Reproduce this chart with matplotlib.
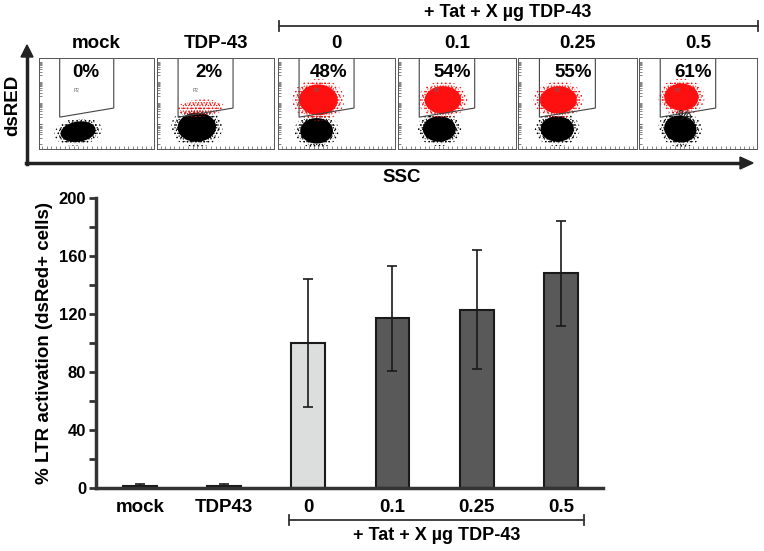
import numpy as np
import matplotlib
matplotlib.use("Agg")
import matplotlib.pyplot as plt
from matplotlib.patches import Ellipse, Polygon

plt.rcParams['font.family'] = ['Liberation Sans', 'DejaVu Sans']
plt.rcParams['font.weight'] = 'bold'
plt.rcParams['axes.labelweight'] = 'bold'
plt.rcParams['hatch.linewidth'] = 0.6

# ---- flow panels ----
panel_titles = ["mock", "TDP-43", "0", "0.1", "0.25", "0.5"]
panel_pct = ["0%", "2%", "48%", "54%", "55%", "61%"]
pct_x = [0.41, 0.44, 0.43, 0.46, 0.46, 0.46]
# clusters: (cx, cy, w, h, angle) in panel axes fraction
black_clusters = [
    (0.34, 0.19, 0.31, 0.22, 15),
    (0.34, 0.24, 0.33, 0.32, 20),
    (0.33, 0.20, 0.28, 0.28, 20),
    (0.35, 0.22, 0.28, 0.28, 20),
    (0.33, 0.22, 0.28, 0.28, 20),
    (0.35, 0.22, 0.27, 0.30, 20),
]
red_clusters = [
    None,
    (0.37, 0.45, 0.30, 0.14, 5),
    (0.345, 0.54, 0.33, 0.34, 10),
    (0.38, 0.54, 0.31, 0.30, 10),
    (0.34, 0.54, 0.31, 0.30, 10),
    (0.36, 0.57, 0.29, 0.30, 10),
]
red_dense = [0, 0.0, 1, 1, 1, 1]

# ---- bar chart ----
bar_labels = ["mock", "TDP43", "0", "0.1", "0.25", "0.5"]
bar_values = [1.5, 1.5, 100, 117, 123, 148]
bar_errors = [1.5, 1.5, 44, 36, 41, 36]
bar_colors = ["#8c8c8c", "#8c8c8c", "#dcdedd", "#595959", "#595959", "#595959"]
group_label = "+ Tat + X µg TDP-43"

W, H = 764, 551
fig = plt.figure(figsize=(W / 100, H / 100), dpi=100)


def fx(px):
    return px / W


def fy(py):
    return 1 - py / H


def blob(ax, c, color, solid=True):
    cx, cy, w, h, a = c
    ax.add_patch(Ellipse((cx, cy), w * 1.35, h * 1.35, angle=a, fill=False,
                         hatch="....", ec=color, lw=0))
    ax.add_patch(Ellipse((cx, cy), w * 1.18, h * 1.18, angle=a, fill=False,
                         hatch="......", ec=color, lw=0))
    if solid:
        ax.add_patch(Ellipse((cx, cy), w, h, angle=a, color=color, lw=0))


panel_edges = [(39, 154), (157, 274), (278, 395), (398, 516), (518, 637), (639, 757)]
p_top, p_bot = 58, 149

for i, (l, r) in enumerate(panel_edges):
    ax = fig.add_axes([fx(l), fy(p_bot), fx(r - l), (p_bot - p_top) / H])
    ax.set_xlim(0, 1)
    ax.set_ylim(0, 1)
    for s in ax.spines.values():
        s.set_linewidth(0.7)
        s.set_color("#555555")
    ax.set_xticks(np.linspace(0.03, 0.97, 25))
    # log-style ticks on the y axis
    yt = []
    for d in [0.05, 0.28, 0.51, 0.74]:
        yt += [d + 0.23 * np.log10(k) for k in range(1, 10)]
    ax.set_yticks(yt)
    ax.tick_params(direction="in", length=2, width=0.5, color="#555555",
                   labelbottom=False, labelleft=False)

    blob(ax, black_clusters[i], "black")
    if red_clusters[i] is not None:
        blob(ax, red_clusters[i], "#ff1010", solid=red_dense[i] > 0)

    gate = Polygon([(0.18, 1.0), (0.18, 0.35), (0.65, 0.45), (0.65, 1.0)],
                   closed=False, fill=False, ec="#444444", lw=0.8)
    ax.add_patch(gate)
    ax.text(0.33, 0.64, "P2", fontsize=3.5, color="#666666", ha="center",
            va="center", fontweight="normal")
    ax.text(pct_x[i], 0.84, panel_pct[i], fontsize=13.5, ha="center", va="center")
    if i == 5:
        ax.text(0.38, 0.36, "%", fontsize=11, ha="center", va="center",
                color="#222222", fontweight="normal")
    fig.text(fx((l + r) / 2), fy(43.5), panel_titles[i], fontsize=13.5,
             ha="center", va="center")

# outer arrows of flow panels
fig.add_artist(plt.Line2D([fx(27), fx(27)], [fy(164), fy(56)], lw=2.5, color="#222222"))
fig.add_artist(plt.Line2D([fx(26), fx(742)], [fy(163), fy(163)], lw=2.5, color="#222222"))
fig.add_artist(Polygon([(fx(21), fy(57)), (fx(33), fy(57)), (fx(27), fy(45))],
                       closed=True, color="#222222", transform=fig.transFigure))
fig.add_artist(Polygon([(fx(740), fy(157)), (fx(740), fy(169)), (fx(753), fy(163))],
                       closed=True, color="#222222", transform=fig.transFigure))
fig.text(fx(13), fy(105), "dsRED", rotation=90, fontsize=13.5, ha="center", va="center")
fig.text(fx(402), fy(177), "SSC", fontsize=13.5, ha="center", va="center")

# top bracket
fig.add_artist(plt.Line2D([fx(279), fx(758)], [fy(26), fy(26)], lw=1.3, color="#333333"))
for xb in (279, 758):
    fig.add_artist(plt.Line2D([fx(xb), fx(xb)], [fy(21), fy(31)], lw=1.3, color="#333333"))
fig.text(fx(508), fy(12.5), group_label, fontsize=13, ha="center", va="center")

# ---- bar chart ----
ax = fig.add_axes([fx(96), fy(488), fx(603 - 96), (488 - 198) / H])
x = np.arange(len(bar_values))
ax.bar(x, bar_values, width=0.4, color=bar_colors, edgecolor="#1a1a1a", linewidth=1.5,
       yerr=bar_errors, capsize=3.5,
       error_kw=dict(elinewidth=1.2, capthick=1.2, ecolor="#1a1a1a"))
ax.set_xlim(-0.52, 5.5)
ax.set_ylim(0, 200)
ax.set_yticks([0, 40, 80, 120, 160, 200])
ax.set_yticks([20, 60, 100, 140, 180], minor=True)
ax.set_xticks(x)
ax.set_xticklabels(bar_labels, fontsize=13.5, fontweight="bold")
ax.set_yticklabels([0, 40, 80, 120, 160, 200], fontsize=12, fontweight="bold")
ax.tick_params(axis="x", length=0, pad=8)
ax.tick_params(axis="y", which="both", length=5, width=2, color="#333333", pad=2)
for s in ["top", "right"]:
    ax.spines[s].set_visible(False)
for s in ["left", "bottom"]:
    ax.spines[s].set_linewidth(2.5)
    ax.spines[s].set_color("#333333")
ax.set_ylabel("% LTR activation (dsRed+ cells)", fontsize=13.5, fontweight="bold",
              labelpad=4)

# bottom bracket under the Tat groups
tr = ax.get_xaxis_transform()
yb = -(520 - 488) / 290
ax.plot([1.77, 5.27], [yb, yb], color="#333333", lw=1.3, clip_on=False, transform=tr)
for xb in (1.77, 5.27):
    ax.plot([xb, xb], [yb - 0.018, yb + 0.018], color="#333333", lw=1.3,
            clip_on=False, transform=tr)
ax.text((1.77 + 5.27) / 2, -(536 - 488) / 290, group_label, fontsize=13,
        ha="center", va="center", transform=tr)

fig.savefig("out.png", dpi=100)
